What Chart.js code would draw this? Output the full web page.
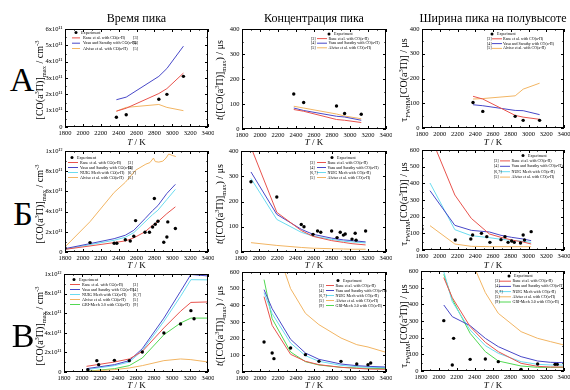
<!DOCTYPE html>
<html><head><meta charset="utf-8">
<script src="https://cdn.jsdelivr.net/npm/chart.js@4.4.0/dist/chart.umd.min.js"></script>
<style>
html,body{margin:0;padding:0;background:#fff;}
#wrap{position:relative;width:570px;height:390px;overflow:hidden;font-family:'Liberation Serif','DejaVu Serif',serif;color:#000;}
canvas{position:absolute;}
.t{position:absolute;white-space:nowrap;transform:translate(-50%,-50%);line-height:1;}
.col{font-size:12px;}
.row{font-size:34px;}
.xt{font-size:9px;}
.yt{font-size:10px;transform:translate(-50%,-50%) rotate(-90deg);}
sub,sup{font-size:65%;line-height:0;}
</style></head><body><div id="wrap"></div>
<script>
// ---------- text ----------
const colTitles = ['Время пика', 'Концентрация пика', 'Ширина пика на полувысоте'];
const rowLetters = ['А', 'Б', 'В'];
const xTickLabels = ['1800','2000','2200','2400','2600','2800','3000','3200','3400'];
const yTicksA1 = ['0','1x10¹¹','2x10¹¹','3x10¹¹','4x10¹¹','5x10¹¹','6x10¹¹'];
const yTicksBig = ['0','2x10¹¹','4x10¹¹','6x10¹¹','8x10¹¹','1x10¹²'];
const yTicks400 = ['0','100','200','300','400'];
const yTicks600 = ['0','100','200','300','400','500','600'];
const seriesNames = {exp:'Experiment', rane:'Rane et al. with CO(a³Π)', vasu:'Vasu and Sarathy with CO(a³Π)', nuig:'NUIG Mech with CO(a³Π)', alviso:'Alviso et al. with CO(a³Π)', gri:'GRI-Mech 3.0 with CO(a³Π)'};
const seriesRefs = {rane:'[3]', vasu:'[4]', nuig:'[6,7]', alviso:'[5]', gri:'[9]'};

// ---------- data (left column values in 1e11 cm^-3) ----------
// Row А
const tA = [2375, 2485, 2850, 2940, 3125];
const expA1 = [0.6, 0.75, 1.7, 2.0, 3.1];
const raneA1 = [0.97, 1.15, 2.05, 2.35, 3.3];
const vasuA1 = [1.67, 1.83, 3.1, 3.58, 4.95];
const alvisoA1 = [0.97, 1.2, 1.38, 1.2, 1.0];
const expA2 = [140, 106, 92, 62, 59];
const raneA2 = [78, 71, 38, 35, 26];
const vasuA2 = [84, 74, 51, 48, 35];
const alvisoA2 = [91, 84, 60, 52, 41];
const expA3 = [103, 67, 47, 31, 31];
const raneA3 = [128, 117, 51, 44, 35];
const vasuA3 = [94, 90, 71, 70, 54];
const alvisoA3 = [117, 119, 130, 157, 181];
// Row Б
const tExpB1 = [1800, 2080, 2350, 2380, 2475, 2530, 2570, 2590, 2695, 2745, 2780, 2800, 2810, 2840, 2905, 2940, 2950, 3035];
const expB1 = [0.40, 0.93, 0.86, 0.86, 1.22, 1.09, 1.56, 3.11, 1.95, 1.95, 2.48, 5.30, 2.75, 3.05, 0.96, 1.49, 2.98, 2.32];
const tLineB1 = [1800, 2080, 2350, 2475, 2570, 2695, 2780, 2840, 2940, 3035];
const raneB1 = [0.26, 0.6, 0.93, 1.1, 1.4, 2.0, 2.65, 3.0, 3.8, 4.47];
const vasuB1 = [0.33, 0.83, 1.32, 1.66, 2.15, 3.3, 4.1, 4.6, 5.8, 6.7];
const nuigB1 = [0.26, 0.73, 1.16, 1.46, 1.92, 2.98, 3.7, 4.14, 5.2, 6.2];
const tAlvB1 = [1800, 2080, 2350, 2475, 2590, 2705, 2750, 2790, 2810, 2850, 2895, 2930, 2960, 3005, 3040];
const alvisoB1 = [0.5, 3.0, 5.9, 6.9, 8.1, 8.7, 8.85, 9.3, 8.95, 8.9, 9.0, 9.3, 9.7, 9.55, 9.45];
const tExpB2 = [1910, 2195, 2465, 2495, 2595, 2645, 2680, 2800, 2860, 2895, 2930, 2950, 3025, 3060, 3070, 3175];
const expB2 = [278, 218, 109, 100, 70, 83, 78, 83, 57, 78, 67, 71, 51, 74, 47, 83];
const tLineB2 = [1910, 2195, 2465, 2595, 2800, 2930, 3025, 3175];
const raneB2 = [415, 157, 85, 62, 45, 38, 33, 28];
const vasuB2 = [317, 149, 90, 70, 55, 48, 45, 40];
const nuigB2 = [291, 129, 78, 63, 50, 43, 40, 36];
const alvisoB2 = [37, 26, 18, 15, 13, 12, 11, 11];
const tExpB3 = [1800, 2175, 2350, 2370, 2470, 2530, 2565, 2690, 2735, 2770, 2810, 2840, 2910, 2940, 2955, 3030];
const expB3 = [126, 60, 66, 90, 100, 80, 46, 62, 80, 46, 54, 46, 42, 90, 60, 110];
const tLineB3 = [1890, 2170, 2355, 2560, 2690, 2810, 2940, 3030];
const raneB3 = [690, 330, 190, 96, 76, 60, 48, 36];
const vasuB3 = [356, 148, 118, 108, 88, 76, 66, 56];
const nuigB3 = [402, 122, 86, 74, 64, 58, 52, 46];
const alvisoB3 = [146, 36, 22, 20, 20, 20, 20, 20];
// Row В
const tExpC1 = [2065, 2165, 2185, 2360, 2525, 2670, 2910, 3095, 3210, 3245];
const expC1 = [0.24, 1.16, 0.75, 1.19, 1.16, 2.04, 3.98, 4.9, 6.26, 5.44];
const tLineC1 = [2050, 2360, 2525, 2670, 2910, 3095, 3210, 3400];
const raneC1 = [0.58, 1.02, 1.33, 2.1, 4.5, 6.2, 7.1, 7.15];
const vasuC1 = [0.34, 0.75, 1.16, 2.38, 5.5, 8.23, 9.95, 9.8];
const nuigC1 = [0.24, 0.65, 1.02, 2.18, 5.17, 7.72, 9.42, 9.4];
const alvisoC1 = [0.07, 0.24, 0.41, 0.65, 1.16, 1.33, 1.26, 1.02];
const griC1 = [0.07, 0.34, 0.65, 1.43, 3.8, 5.0, 5.5, 5.5];
const tExpC2 = [2045, 2135, 2155, 2340, 2505, 2655, 2900, 3075, 3200, 3230];
const expC2 = [180, 114, 80, 144, 104, 64, 64, 48, 44, 54];
const tLineC2 = [2045, 2135, 2340, 2505, 2655, 2900, 3075, 3200, 3400];
const raneC2 = [452, 280, 106, 64, 44, 28, 22, 18, 16];
const vasuC2 = [494, 380, 196, 114, 76, 48, 38, 34, 30];
const nuigC2 = [476, 350, 174, 98, 64, 40, 32, 28, 26];
const alvisoC2 = [1100, 820, 500, 352, 284, 204, 164, 150, 118];
const griC2 = [554, 320, 120, 62, 42, 28, 24, 22, 20];
const tExpC3 = [2055, 2150, 2165, 2350, 2520, 2665, 2920, 3105, 3300, 3325];
const expC3 = [302, 36, 196, 70, 72, 56, 10, 42, 40, 40];
const tLineC3 = [2055, 2150, 2350, 2520, 2665, 2920, 3105, 3250, 3400];
const raneC3 = [560, 440, 266, 172, 116, 46, 28, 24, 24];
const vasuC3 = [396, 326, 272, 196, 146, 86, 60, 52, 50];
const nuigC3 = [596, 416, 246, 152, 106, 56, 40, 36, 36];
const alvisoC3 = [1300, 1000, 680, 470, 346, 236, 196, 176, 156];
const griC3 = [580, 430, 226, 116, 60, 30, 22, 22, 22];

// ---------- styles ----------
const COLORS = {exp:'#000000', rane:'#e8534d', vasu:'#4848c8', nuig:'#6adcf0', alviso:'#f2b563', gri:'#52d852'};
const FONT = "'Liberation Serif','DejaVu Serif',serif";
Chart.defaults.font.family = FONT;
Chart.defaults.color = '#000';

const framer = {
  id: 'framer',
  afterDraw(chart, args, o) {
    const ctx = chart.ctx, a = chart.chartArea, xs = chart.scales.x, ys = chart.scales.y;
    ctx.save();
    ctx.strokeStyle = '#000'; ctx.lineWidth = 1;
    ctx.strokeRect(a.left + 0.5, a.top + 0.5, a.right - a.left - 1, a.bottom - a.top - 1);
    ctx.beginPath();
    const xStep = xs.options.ticks.stepSize, yStep = ys.options.ticks.stepSize;
    for (let k = 0; xs.min + k * xStep / 2 <= xs.max + 1e-9; k++) {
      const v = xs.min + k * xStep / 2, len = k % 2 === 0 ? 3 : 1.6;
      const p = Math.round(xs.getPixelForValue(v)) + 0.5;
      ctx.moveTo(p, a.bottom); ctx.lineTo(p, a.bottom - len);
      ctx.moveTo(p, a.top); ctx.lineTo(p, a.top + len);
    }
    for (let k = 0; ys.min + k * yStep / 2 <= ys.max + 1e-9; k++) {
      const v = ys.min + k * yStep / 2, len = k % 2 === 0 ? 3 : 1.6;
      const p = Math.round(ys.getPixelForValue(v)) + 0.5;
      ctx.moveTo(a.left, p); ctx.lineTo(a.left + len, p);
      ctx.moveTo(a.right, p); ctx.lineTo(a.right - len, p);
    }
    ctx.stroke();
    // legend
    ctx.font = o.fs + 'px ' + FONT;
    ctx.textBaseline = 'middle'; ctx.textAlign = 'left';
    chart.data.datasets.forEach((ds, i) => {
      const y = a.top + o.y0 + i * o.dy;
      ctx.fillStyle = '#000';
      if (ds.key === 'exp') {
        ctx.beginPath(); ctx.arc(a.left + o.dot, y, 1.5, 0, Math.PI * 2); ctx.fill();
        ctx.fillText(ds.label, a.left + o.dot + 5, y);
      } else {
        ctx.strokeStyle = ds.borderColor; ctx.lineWidth = 1;
        ctx.beginPath(); ctx.moveTo(a.left + o.l0, y); ctx.lineTo(a.left + o.l1, y); ctx.stroke();
        ctx.fillText(ds.label, a.left + o.tx, y);
        ctx.fillText(ds.ref, a.left + o.rx, y);
      }
    });
    ctx.restore();
  }
};

const wrap = document.getElementById('wrap');
const zip = (t, v) => t.map((x, i) => ({x, y: v[i]}));

function panel(area, yMax, yStep, yLabels, series, leg) {
  const YW = 30, PT = 5, PR = 6, XH = 12;
  const cv = document.createElement('canvas');
  const w = area.R - area.L + YW + PR, h = area.B - area.T + PT + XH;
  cv.width = w; cv.height = h;
  cv.style.left = (area.L - YW) + 'px'; cv.style.top = (area.T - PT) + 'px';
  cv.style.width = w + 'px'; cv.style.height = h + 'px';
  wrap.appendChild(cv);
  const datasets = series.map(s => s.key === 'exp' ? {
      key: 'exp', label: seriesNames.exp, data: zip(s.t, s.v), showLine: false,
      pointRadius: 1.7, pointBackgroundColor: '#000', pointBorderWidth: 0, pointHoverRadius: 1.7
    } : {
      key: s.key, label: seriesNames[s.key], ref: seriesRefs[s.key], data: zip(s.t, s.v), showLine: true,
      borderColor: COLORS[s.key], backgroundColor: COLORS[s.key], borderWidth: 1, pointRadius: 0, tension: 0
    });
  new Chart(cv, {
    type: 'scatter',
    data: {datasets},
    options: {
      responsive: false, animation: false, devicePixelRatio: 1,
      layout: {padding: {left: 0, top: PT, right: PR, bottom: 0}},
      events: [],
      plugins: {legend: {display: false}, tooltip: {enabled: false}, framer: leg},
      scales: {
        x: {type: 'linear', min: 1800, max: 3400,
            afterFit: s => { s.height = XH; s.paddingLeft = 0; s.paddingRight = 0; },
            grid: {display: false, drawTicks: false}, border: {display: false},
            ticks: {stepSize: 200, autoSkip: false, maxRotation: 0, padding: 2.5, color: '#000',
                    font: {size: 6.5}, callback: (v, i) => xTickLabels[i]}},
        y: {type: 'linear', min: 0, max: yMax,
            afterFit: s => { s.width = YW; s.paddingTop = 0; s.paddingBottom = 0; },
            grid: {display: false, drawTicks: false}, border: {display: false},
            ticks: {stepSize: yStep, autoSkip: false, padding: 2.5, color: '#000',
                    font: {size: 6.5}, callback: (v, i) => yLabels[i]}}
      }
    },
    plugins: [framer]
  });
}

// Row А
panel({L:65,T:29,R:208,B:127}, 6, 1, yTicksA1, [
  {key:'exp', t:tA, v:expA1}, {key:'rane', t:tA, v:raneA1}, {key:'vasu', t:tA, v:vasuA1}, {key:'alviso', t:tA, v:alvisoA1}],
  {fs:4.2, y0:3.6, dy:5.3, dot:11, l0:7, l1:15, tx:18, rx:68});
panel({L:242,T:29,R:386,B:129}, 400, 100, yTicks400, [
  {key:'exp', t:tA, v:expA2}, {key:'rane', t:tA, v:raneA2}, {key:'vasu', t:tA, v:vasuA2}, {key:'alviso', t:tA, v:alvisoA2}],
  {fs:4.0, y0:5, dy:4.6, dot:87, l0:75, l1:85, tx:86.5, rx:69});
panel({L:422,T:29,R:564,B:128}, 400, 100, yTicks400, [
  {key:'exp', t:tA, v:expA3}, {key:'rane', t:tA, v:raneA3}, {key:'vasu', t:tA, v:vasuA3}, {key:'alviso', t:tA, v:alvisoA3}],
  {fs:4.0, y0:5, dy:4.8, dot:70, l0:70, l1:80, tx:81, rx:65});
// Row Б
panel({L:65,T:151,R:208,B:252}, 10, 2, yTicksBig, [
  {key:'exp', t:tExpB1, v:expB1}, {key:'rane', t:tLineB1, v:raneB1}, {key:'vasu', t:tLineB1, v:vasuB1},
  {key:'nuig', t:tLineB1, v:nuigB1}, {key:'alviso', t:tAlvB1, v:alvisoB1}],
  {fs:4.1, y0:6.5, dy:5, dot:7, l0:3, l1:13, tx:15, rx:63});
panel({L:241,T:151,R:386,B:252}, 400, 100, yTicks400, [
  {key:'exp', t:tExpB2, v:expB2}, {key:'rane', t:tLineB2, v:raneB2}, {key:'vasu', t:tLineB2, v:vasuB2},
  {key:'nuig', t:tLineB2, v:nuigB2}, {key:'alviso', t:tLineB2, v:alvisoB2}],
  {fs:4.0, y0:6.5, dy:5, dot:91, l0:76, l1:85, tx:86.5, rx:69});
panel({L:422,T:150,R:564,B:250}, 600, 100, yTicks600, [
  {key:'exp', t:tExpB3, v:expB3}, {key:'rane', t:tLineB3, v:raneB3}, {key:'vasu', t:tLineB3, v:vasuB3},
  {key:'nuig', t:tLineB3, v:nuigB3}, {key:'alviso', t:tLineB3, v:alvisoB3}],
  {fs:4.0, y0:5.5, dy:5.4, dot:101, l0:78, l1:88, tx:89.5, rx:72});
// Row В
panel({L:64,T:274,R:208,B:372}, 10, 2, yTicksBig, [
  {key:'exp', t:tExpC1, v:expC1}, {key:'rane', t:tLineC1, v:raneC1}, {key:'vasu', t:tLineC1, v:vasuC1},
  {key:'nuig', t:tLineC1, v:nuigC1}, {key:'alviso', t:tLineC1, v:alvisoC1}, {key:'gri', t:tLineC1, v:griC1}],
  {fs:4.1, y0:5.5, dy:5, dot:10, l0:6, l1:16, tx:18, rx:69});
panel({L:242,T:272,R:386,B:372}, 600, 100, yTicks600, [
  {key:'exp', t:tExpC2, v:expC2}, {key:'rane', t:tLineC2, v:raneC2}, {key:'vasu', t:tLineC2, v:vasuC2},
  {key:'nuig', t:tLineC2, v:nuigC2}, {key:'alviso', t:tLineC2, v:alvisoC2}, {key:'gri', t:tLineC2, v:griC2}],
  {fs:4.0, y0:8.5, dy:5, dot:96, l0:84, l1:92, tx:93.5, rx:77});
panel({L:421,T:271,R:564,B:371}, 600, 100, yTicks600, [
  {key:'exp', t:tExpC3, v:expC3}, {key:'rane', t:tLineC3, v:raneC3}, {key:'vasu', t:tLineC3, v:vasuC3},
  {key:'nuig', t:tLineC3, v:nuigC3}, {key:'alviso', t:tLineC3, v:alvisoC3}, {key:'gri', t:tLineC3, v:griC3}],
  {fs:4.0, y0:5, dy:5.2, dot:88, l0:78, l1:90, tx:91.5, rx:74});

// ---------- HTML text ----------
function txt(cls, x, y, html) {
  const d = document.createElement('div');
  d.className = 't ' + cls; d.style.left = x + 'px'; d.style.top = y + 'px'; d.innerHTML = html;
  wrap.appendChild(d);
}
const colX = [136.5, 314, 493];
colTitles.forEach((s, i) => txt('col', colX[i], 18, s));
[[22, 80], [23, 214], [23, 336]].forEach((p, i) => txt('row', p[0], p[1], rowLetters[i]));
const xtY = [142, 265, 385];
xtY.forEach(y => colX.forEach(x => txt('xt', x, y, '<i>T</i> / K')));
const ytY = [80, 204, 326];
const yTitles = [
  '[CO(a<sup>3</sup>Π)]<sub>max</sub> / cm<sup>-3</sup>',
  '<i>t</i>([CO(a<sup>3</sup>Π)]<sub>max</sub>) / μs',
  'τ<sub>FWHM</sub>[CO(a<sup>3</sup>Π)] / μs'
];
const ytX = [40, 220, 404];
ytY.forEach(y => ytX.forEach((x, i) => txt('yt', x, y, yTitles[i])));
</script></body></html>
